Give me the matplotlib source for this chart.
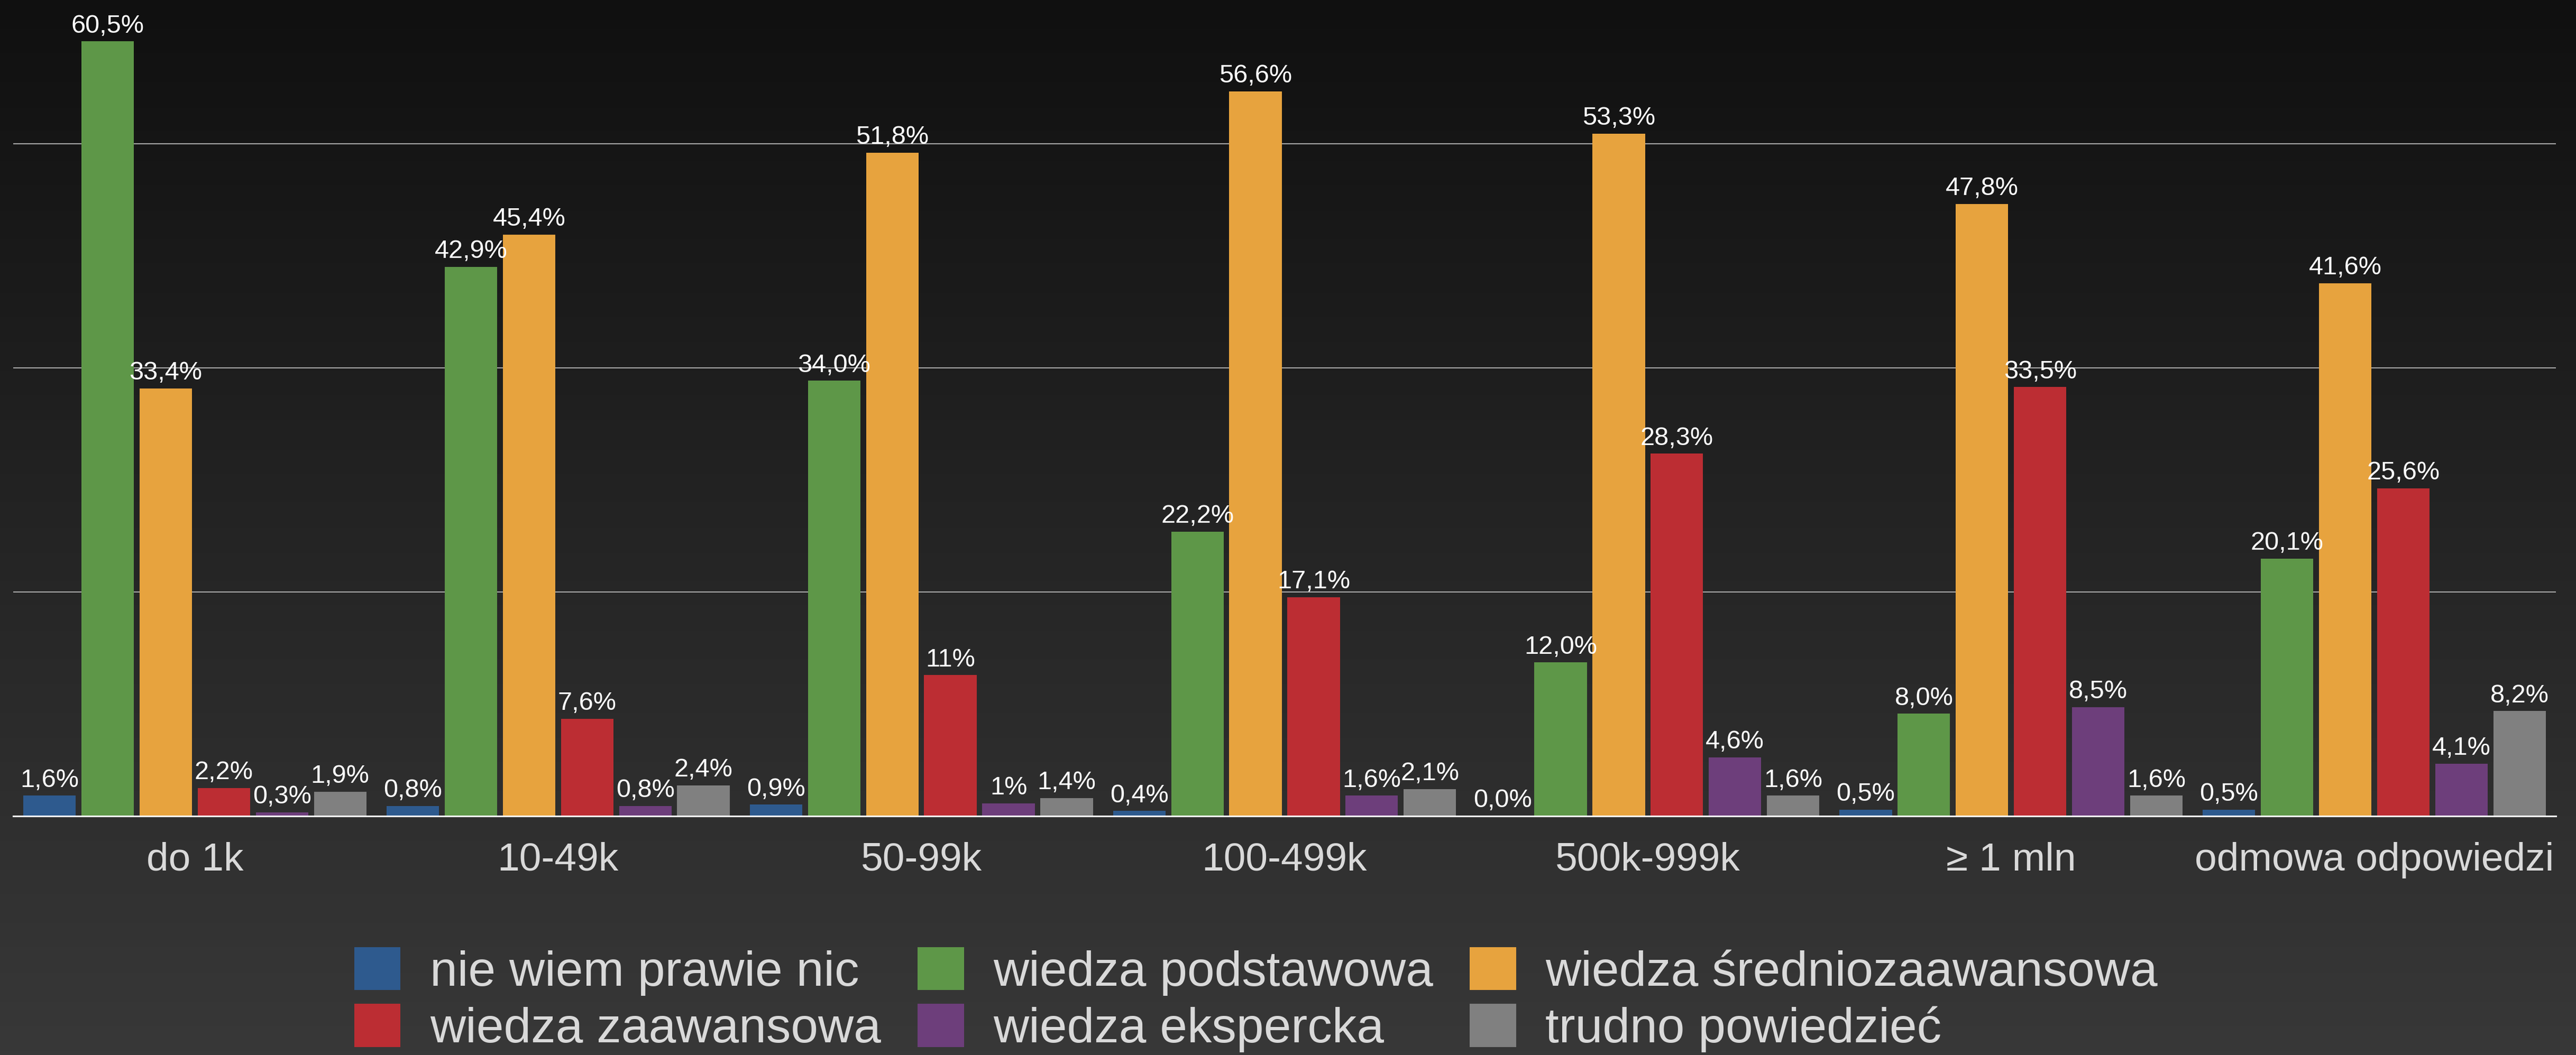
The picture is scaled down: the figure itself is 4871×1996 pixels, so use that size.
import numpy as np
import matplotlib
matplotlib.use("Agg")
import matplotlib.pyplot as plt
from matplotlib.patches import Patch

plt.rcParams['font.family'] = ['Liberation Sans', 'DejaVu Sans']

categories = ['do 1k', '10-49k', '50-99k', '100-499k', '500k-999k', '≥ 1 mln', 'odmowa odpowiedzi']

series_names = ['nie wiem prawie nic', 'wiedza podstawowa', 'wiedza średniozaawansowa',
                'wiedza zaawansowa', 'wiedza ekspercka', 'trudno powiedzieć']

nie_wiem = [1.6, 0.8, 0.9, 0.4, 0.0, 0.5, 0.5]
podstawowa = [60.5, 42.9, 34.0, 22.2, 12.0, 8.0, 20.1]
sredniozaawansowa = [33.4, 45.4, 51.8, 56.6, 53.3, 47.8, 41.6]
zaawansowa = [2.2, 7.6, 11.0, 17.1, 28.3, 33.5, 25.6]
ekspercka = [0.3, 0.8, 1.0, 1.6, 4.6, 8.5, 4.1]
trudno = [1.9, 2.4, 1.4, 2.1, 1.6, 1.6, 8.2]

# labels as printed on the chart (a couple have no decimals)
labels_nie_wiem = ['1,6%', '0,8%', '0,9%', '0,4%', '0,0%', '0,5%', '0,5%']
labels_podstawowa = ['60,5%', '42,9%', '34,0%', '22,2%', '12,0%', '8,0%', '20,1%']
labels_srednio = ['33,4%', '45,4%', '51,8%', '56,6%', '53,3%', '47,8%', '41,6%']
labels_zaawansowa = ['2,2%', '7,6%', '11%', '17,1%', '28,3%', '33,5%', '25,6%']
labels_ekspercka = ['0,3%', '0,8%', '1%', '1,6%', '4,6%', '8,5%', '4,1%']
labels_trudno = ['1,9%', '2,4%', '1,4%', '2,1%', '1,6%', '1,6%', '8,2%']

colors = ['#2e5a8e', '#5e9748', '#e7a33e', '#bc2d33', '#6d3e7b', '#808080']

data = [nie_wiem, podstawowa, sredniozaawansowa, zaawansowa, ekspercka, trudno]
labels = [labels_nie_wiem, labels_podstawowa, labels_srednio, labels_zaawansowa,
          labels_ekspercka, labels_trudno]

W, H = 4871, 1996
fig = plt.figure(figsize=(W / 100, H / 100), dpi=100)

# background gradient
bg = fig.add_axes([0, 0, 1, 1], zorder=-10)
grad = np.linspace(0, 1, 256).reshape(-1, 1)
top = np.array([0x10, 0x10, 0x10]) / 255
bot = np.array([0x38, 0x38, 0x38]) / 255
img = top + (bot - top) * grad[:, :, None]
bg.imshow(img, aspect='auto', extent=[0, 1, 0, 1], origin='upper')
bg.axis('off')

base_y = 1544
ax = fig.add_axes([25 / W, (H - base_y) / H, (4833 - 25) / W, base_y / H])
ax.patch.set_alpha(0)

x = np.arange(len(categories))
pitch = 0.16
width = 0.1445
for j, (vals, col, labs) in enumerate(zip(data, colors, labels)):
    xs = x + (j - 2.5) * pitch
    ax.bar(xs, vals, width=width, color=col, zorder=3, label=series_names[j])
    for xi, v, lab in zip(xs, vals, labs):
        ax.annotate(lab, (xi, v), xytext=(0, 12), textcoords='offset points',
                    ha='center', va='baseline', color='white', fontsize=35, zorder=4)

ax.set_xlim(-0.5, len(categories) - 0.5)
ax.set_ylim(0, base_y / (424 / 17.5))
ax.set_yticks([17.5, 35, 52.5])
ax.yaxis.grid(True, color='#a8a8a8', linewidth=1.5, zorder=0)
ax.tick_params(axis='y', left=False, labelleft=False)
ax.set_xticks(x)
ax.set_xticklabels(categories, fontsize=54, color='#d9d9d9')
ax.tick_params(axis='x', length=0, pad=35)
for s in ['top', 'right', 'left']:
    ax.spines[s].set_visible(False)
ax.spines['bottom'].set_color('white')
ax.spines['bottom'].set_linewidth(2.2)
ax.spines['bottom'].set_zorder(5)

# legend laid out row-wise: matplotlib fills columns first, so reorder
order = [0, 3, 1, 4, 2, 5]
handles = [Patch(facecolor=colors[k]) for k in order]
names = [series_names[k] for k in order]
fig.legend(handles, names, ncol=3, loc='upper left',
           bbox_to_anchor=(670 / W, 1 - 1792 / H), frameon=False,
           fontsize=67, labelcolor='#d9d9d9', handlelength=0.94, handleheight=0.97,
           handletextpad=0.6, columnspacing=0.74, labelspacing=0.17,
           borderpad=0, borderaxespad=0)

fig.savefig('out.png', dpi=100)
